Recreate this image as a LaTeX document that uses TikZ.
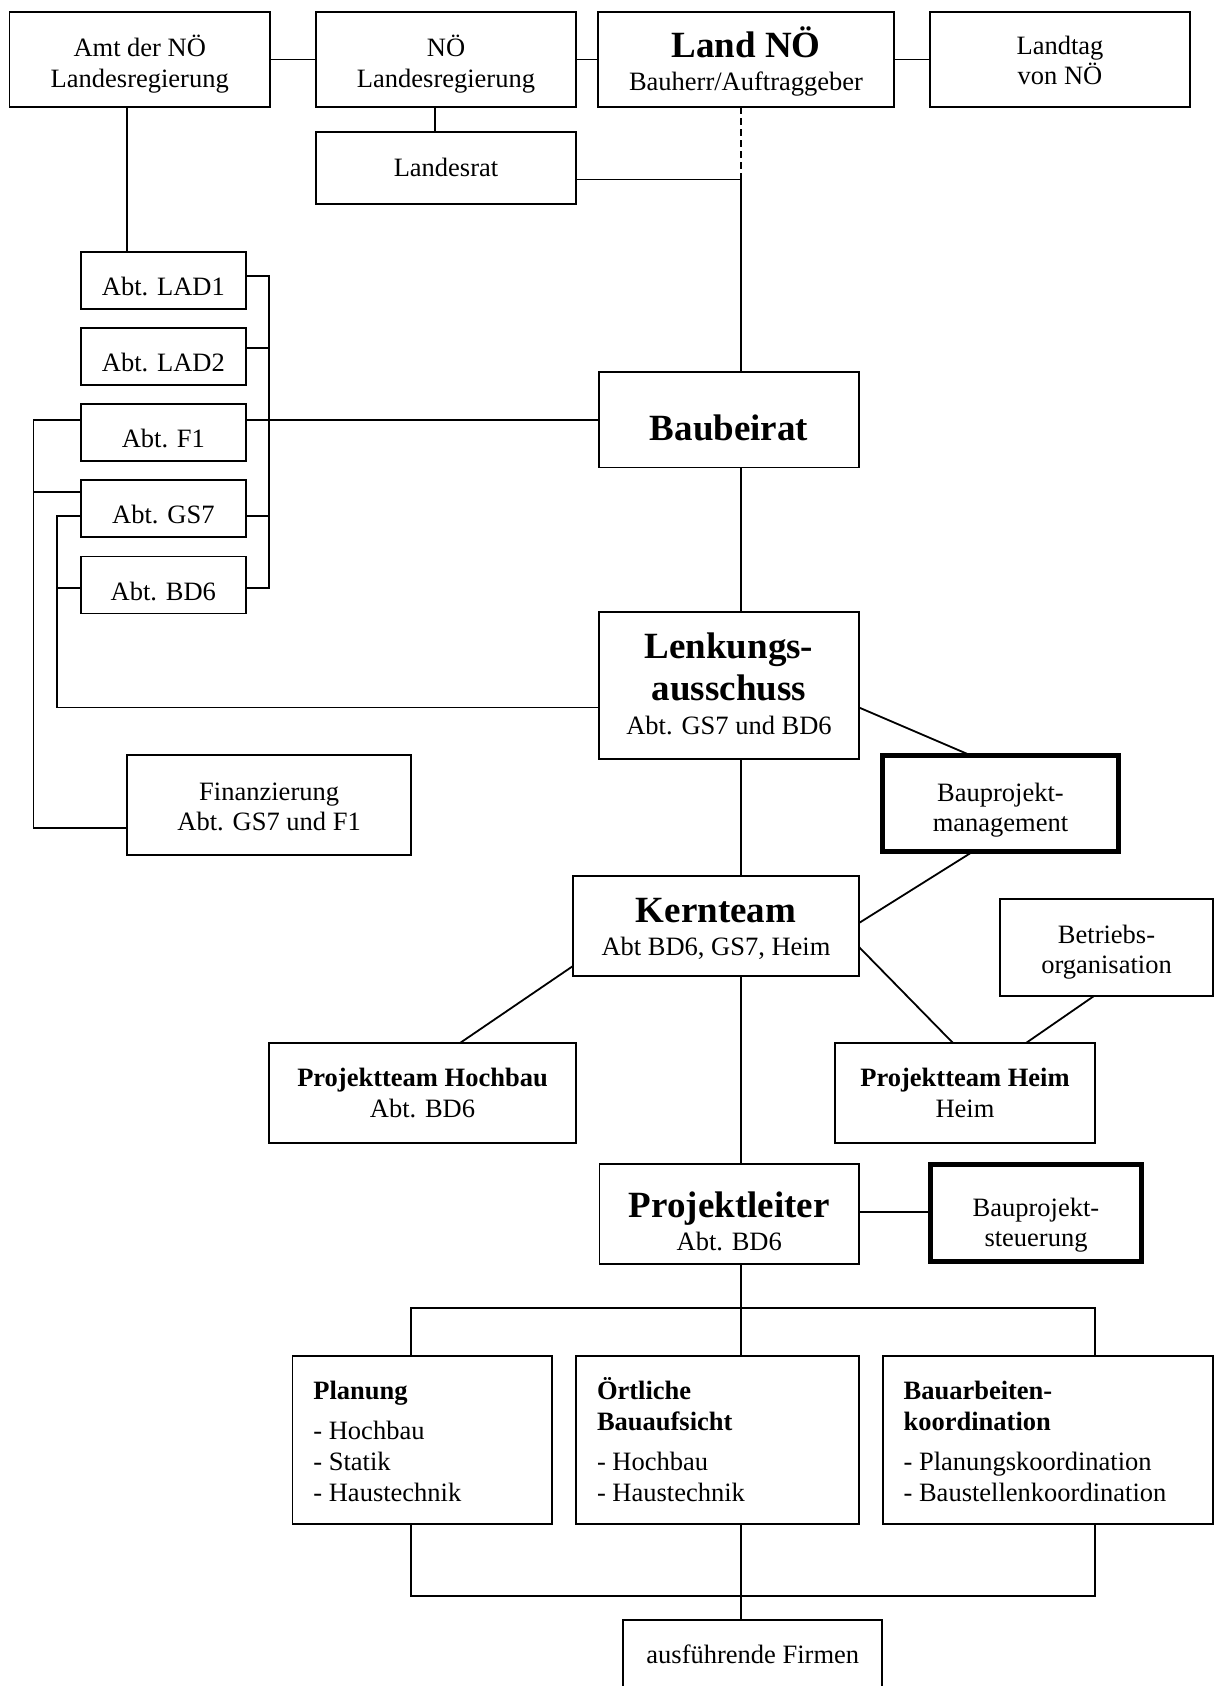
\documentclass[tikz,border=0pt]{standalone}
\usepackage{fontspec}
\setmainfont{Liberation Serif}
\newcommand\mlines[1]{\vtop{\baselineskip=0pt\lineskip=0pt\lineskiplimit=-\maxdimen\halign{\hfil##\hfil\cr#1\crcr}}}
\newcommand\llines[2]{\makebox[#1][l]{\vtop{\baselineskip=0pt\lineskip=0pt\lineskiplimit=-\maxdimen\halign{##\hfil\cr#2\crcr}}}}
\newcommand\nxl[1]{\cr\noalign{\kern#1pt}}
\newcommand\BIG{\fontsize{37}{40}\selectfont\bfseries}
\tikzset{
  box/.style={draw, rectangle, line width=1.8pt, inner sep=0pt, outer sep=0pt,
    font=\fontsize{26.5}{30.6}\selectfont},
  heavybox/.style={box, line width=5pt},
  link/.style={line width=1.8pt},
}
\begin{document}
\begin{tikzpicture}[x=1pt,y=1pt]
\useasboundingbox (0,0) rectangle (1219,-1686);
% ---------- top row
\node[box, minimum width=260.5pt, minimum height=95pt, text height=0pt, text depth=5.6pt] (amt) at (139.75,-59.5) {\mlines{Amt der NÖ\nxl{30.6}Landesregierung}};
\node[box, minimum width=260pt, minimum height=95pt, text height=0pt, text depth=5.6pt] (noelr) at (446,-59.5) {\mlines{NÖ\nxl{30.6}Landesregierung}};
\node[box, minimum width=296pt, minimum height=95pt, text height=0pt, text depth=4.4pt] (land) at (746,-59.5) {\mlines{{\BIG Land NÖ}\nxl{32.7}Bauherr/Auftraggeber}};
\node[box, minimum width=260pt, minimum height=95pt, text height=0pt, text depth=9pt] (landtag) at (1060,-59.5) {\mlines{Landtag\nxl{30}von NÖ}};
\node[box, minimum width=260pt, minimum height=72pt, text height=16pt, text depth=0pt] (landesrat) at (446,-168) {Landesrat};
% ---------- Abteilungen
\node[box, minimum width=165.3pt, minimum height=57pt, text height=30pt, text depth=0pt] (lad1) at (163.35,-280.5) {Abt. LAD1};
\node[box, minimum width=165.3pt, minimum height=57pt, text height=30pt, text depth=0pt] (lad2) at (163.35,-356.5) {Abt. LAD2};
\node[box, minimum width=165.3pt, minimum height=57pt, text height=30pt, text depth=0pt] (f1) at (163.35,-432.3) {Abt. F1};
\node[box, minimum width=165.3pt, minimum height=57pt, text height=30pt, text depth=0pt] (gs7) at (163.35,-508.3) {Abt. GS7};
\node[box, minimum width=165.3pt, minimum height=57pt, text height=30pt, text depth=0pt] (bd6) at (163.35,-585) {Abt. BD6};
\node[box, minimum width=283.7pt, minimum height=100pt, text height=0pt, text depth=10.6pt] (finanz) at (269.15,-805.3) {\mlines{Finanzierung\nxl{30.7}Abt. GS7 und F1}};
% ---------- main column
\node[box, minimum width=260pt, minimum height=95.5pt, text height=42pt, text depth=0pt] (baubeirat) at (729,-419.75) {\BIG Baubeirat};
\node[box, minimum width=260pt, minimum height=147pt, text height=0pt, text depth=54.4pt] (lenkung) at (729,-685.5) {\mlines{{\BIG Lenkungs-}\nxl{41.7}{\BIG ausschuss}\nxl{34.3}Abt. GS7 und BD6}};
\node[heavybox, minimum width=236pt, minimum height=96pt, text height=0pt, text depth=3.6pt] (bpm) at (1000.5,-803.5) {\mlines{Bauprojekt-\nxl{30}management}};
\node[box, minimum width=286pt, minimum height=100pt, text height=0pt, text depth=8pt] (kern) at (716,-926) {\mlines{{\BIG Kernteam}\nxl{33}Abt BD6, GS7, Heim}};
\node[box, minimum width=213pt, minimum height=97pt, text height=0pt, text depth=8.4pt] (bo) at (1106.5,-947.5) {\mlines{Betriebs-\nxl{30}organisation}};
\node[box, minimum width=307pt, minimum height=100pt, text height=0pt, text depth=12.6pt] (phoch) at (422.5,-1093) {\mlines{\textbf{Projektteam Hochbau}\nxl{31}Abt. BD6}};
\node[box, minimum width=260pt, minimum height=100pt, text height=0pt, text depth=12.6pt] (pheim) at (965,-1093) {\mlines{\textbf{Projektteam Heim}\nxl{31}Heim}};
\node[box, minimum width=259.5pt, minimum height=100pt, text height=6.6pt, text depth=0pt] (pl) at (729.25,-1214) {\mlines{{\BIG Projektleiter}\nxl{32.7}Abt. BD6}};
\node[heavybox, minimum width=211.7pt, minimum height=97pt, text height=7.4pt, text depth=0pt] (bps) at (1036,-1213) {\mlines{Bauprojekt-\nxl{29.5}steuerung}};
% ---------- bottom row
\node[box, minimum width=259.6pt, minimum height=168pt, text height=0pt, text depth=82pt] (planung) at (422.2,-1440) {\llines{217.6pt}{\textbf{Planung}\nxl{40}- Hochbau\nxl{31.3}- Statik\nxl{31.4}- Haustechnik}};
\node[box, minimum width=283pt, minimum height=168pt, text height=0pt, text depth=82pt] (oertl) at (717.5,-1440) {\llines{241pt}{\textbf{Örtliche}\nxl{31.7}\textbf{Bauaufsicht}\nxl{39.3}- Hochbau\nxl{31.7}- Haustechnik}};
\node[box, minimum width=330.4pt, minimum height=168pt, text height=0pt, text depth=82pt] (bauarb) at (1047.8,-1440) {\llines{288.4pt}{\textbf{Bauarbeiten-}\nxl{31.7}\textbf{koordination}\nxl{39.3}- Planungskoordination\nxl{31.7}- Baustellenkoordination}};
\node[box, minimum width=259pt, minimum height=100pt, text height=0pt, text depth=14pt] (firmen) at (752.8,-1670) {ausführende Firmen};
% ---------- helper coordinates
\coordinate (mx) at (741,0);
\coordinate (j1) at (741,-179.5);
\coordinate (lrx) at (435,0);
\coordinate (ax) at (127.3,0);
\coordinate (rb) at (269.3,0);
\coordinate (ob) at (33.5,0);
\coordinate (ib) at (57.3,0);
\coordinate (yl1) at (0,-275.7);
\coordinate (yl2) at (0,-347.7);
\coordinate (yf1) at (0,-420);
\coordinate (yg7o) at (0,-492);
\coordinate (yg7) at (0,-515.7);
\coordinate (yb6) at (0,-587.7);
\coordinate (ylk) at (0,-707.5);
\coordinate (yfin) at (0,-827.7);
\coordinate (bpmt) at (971,0);
\coordinate (bpmb) at (973,0);
\coordinate (ykr) at (0,-923);
\coordinate (ykl) at (0,-966);
\coordinate (ykh) at (0,-947);
\coordinate (phx) at (460,0);
\coordinate (hmx) at (953,0);
\coordinate (hbx) at (1026,0);
\coordinate (box) at (1094,0);
\coordinate (ypl) at (0,-1212);
\coordinate (tb) at (741,-1308);
\coordinate (bb) at (741,-1595.7);
\coordinate (px) at (411,0);
\coordinate (bx) at (1095,0);
% ---------- connectors
\draw[link] (amt.east) -- (noelr.west);
\draw[link] (noelr.east) -- (land.west);
\draw[link] (land.east) -- (landtag.west);
\draw[link] (noelr.south -| lrx) -- (landesrat.north -| lrx);
\draw[link] (landesrat.east |- j1) -- (j1);
\draw[link, dash pattern=on 7pt off 4pt] (land.south -| j1) -- (j1);
\draw[link] (j1) -- (baubeirat.north -| mx);
\draw[link] (baubeirat.south -| mx) -- (lenkung.north -| mx);
\draw[link] (lenkung.south -| mx) -- (kern.north -| mx);
\draw[link] (kern.south -| mx) -- (pl.north -| mx);
\draw[link] (amt.south -| ax) -- (lad1.north -| ax);
\draw[link] (lad1.east |- yl1) -- (rb |- yl1) -- (rb |- yb6) -- (bd6.east |- yb6);
\draw[link] (lad2.east |- yl2) -- (rb |- yl2);
\draw[link] (gs7.east |- yg7) -- (rb |- yg7);
\draw[link] (f1.east |- yf1) -- (baubeirat.west |- yf1);
\draw[link] (f1.west |- yf1) -- (ob |- yf1) -- (ob |- yfin) -- (finanz.west |- yfin);
\draw[link] (gs7.west |- yg7o) -- (ob |- yg7o);
\draw[link] (gs7.west |- yg7) -- (ib |- yg7) -- (ib |- ylk) -- (lenkung.west |- ylk);
\draw[link] (bd6.west |- yb6) -- (ib |- yb6);
\draw[link] (lenkung.east |- ylk) -- (bpm.north -| bpmt);
\draw[link] (bpm.south -| bpmb) -- (kern.east |- ykr);
\draw[link] (kern.west |- ykl) -- (phoch.north -| phx);
\draw[link] (kern.east |- ykh) -- (pheim.north -| hmx);
\draw[link] (bo.south -| box) -- (pheim.north -| hbx);
\draw[link] (pl.east |- ypl) -- (bps.west |- ypl);
\draw[link] (pl.south -| mx) -- (tb);
\draw[link] (planung.north -| px) -- (px |- tb) -- (bx |- tb) -- (bauarb.north -| bx);
\draw[link] (tb) -- (oertl.north -| mx);
\draw[link] (planung.south -| px) -- (px |- bb) -- (bx |- bb) -- (bauarb.south -| bx);
\draw[link] (oertl.south -| mx) -- (bb) -- (firmen.north -| mx);
\end{tikzpicture}
\end{document}
